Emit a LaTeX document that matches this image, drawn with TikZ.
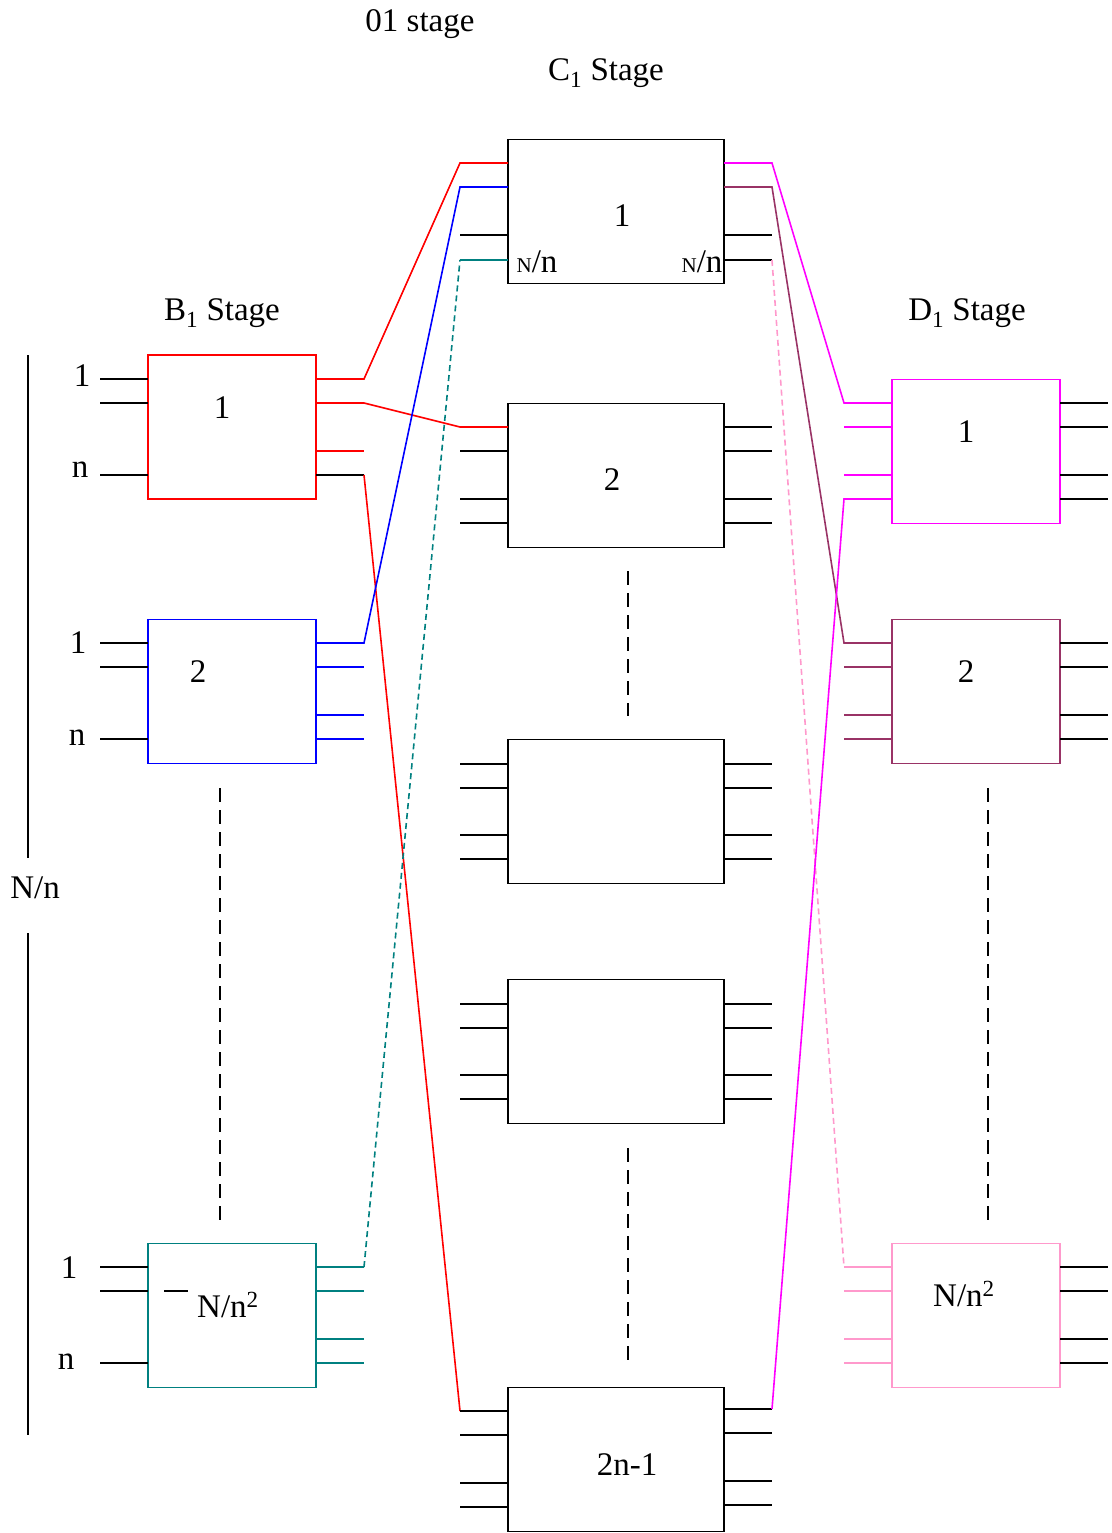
\documentclass[tikz,border=0pt]{standalone}
\usepackage{fontspec}
\setmainfont{Liberation Serif}
\definecolor{cteal}{HTML}{008080}
\definecolor{cpurple}{HTML}{993366}
\definecolor{cpink}{HTML}{FF99CC}
\definecolor{cmag}{HTML}{FF00FF}
\begin{document}
\begin{tikzpicture}[x=1pt,y=-1pt,
  ln/.style={line width=1.6pt},
  bbox/.style={draw, line width=1.8pt, minimum width=168pt, minimum height=144pt, inner sep=0pt},
  cbox/.style={bbox, minimum width=216pt},
  lbl/.style={inner sep=0pt, font=\fontsize{33}{40}\selectfont},
  vdash/.style={ln, dash pattern=on 14pt off 8pt},
  sdash/.style={ln, dash pattern=on 6pt off 4pt}]
\useasboundingbox (0,0) rectangle (1111,1533);
% boxes
\node[bbox, red] (b1) at (232,427) {};
\node[bbox, blue] (b2) at (232,691.5) {};
\node[bbox, cteal] (b3) at (232,1315.5) {};
\node[cbox] (c1) at (616,211.5) {};
\node[cbox] (c2) at (616,475.5) {};
\node[cbox] (c3) at (616,811.5) {};
\node[cbox] (c4) at (616,1051.5) {};
\node[cbox] (c5) at (616,1459.5) {};
\node[bbox, cmag] (d1) at (976,451.5) {};
\node[bbox, cpurple] (d2) at (976,691.5) {};
\node[bbox, cpink] (d3) at (976,1315.5) {};
% titles
\node[lbl] (t01) at (420,24) {01 stage};
\node[lbl] (tc) at (606,73) {C\textsubscript{1} Stage};
\node[lbl] (tb) at (222,313) {B\textsubscript{1} Stage};
\node[lbl] (td) at (967,313) {D\textsubscript{1} Stage};
% box labels
\node[lbl] (lb1) at (222,408) {1};
\node[lbl] (lb2) at (198,672) {2};
\node[lbl] (lb3) at (228,1305) {N/n\textsuperscript{2}};
\node[lbl] (lc1) at (622,216) {1};
\node[lbl] (lc2) at (612,480) {2};
\node[lbl] (lc5) at (627,1465) {2n-1};
\node[lbl] (ld1) at (966,432) {1};
\node[lbl] (ld2) at (966,672) {2};
\node[lbl] (ld3) at (964,1294) {N/n\textsuperscript{2}};
\node[lbl] (nnl) at (537,262) {{\fontsize{21}{24}\selectfont N}/n};
\node[lbl] (nnr) at (702,262) {{\fontsize{21}{24}\selectfont N}/n};
% input labels
\node[lbl] (i11) at (82,376) {1};
\node[lbl] (i1n) at (80,470) {n};
\node[lbl] (i21) at (78,643) {1};
\node[lbl] (i2n) at (77,738) {n};
\node[lbl] (i31) at (69,1268) {1};
\node[lbl] (i3n) at (66,1362) {n};
\node[lbl] (nn) at (35,888) {N/n};
\coordinate (nt) at (28,858);
\coordinate (nb) at (28,933);
\draw[ln] (28,355) -- (nt);
\draw[ln] (nb) -- (28,1435);
% left inputs
\foreach \y in {379,403,475,643,667,739,1267,1291,1363}
  \draw[ln] (100,\y) -- (148,\y);
\draw[ln] (164,1291) -- (188,1291);
% B1 outputs
\draw[ln, red] (316,379) -- (364,379) -- (460,163) -- (508,163);
\draw[ln, red] (316,403) -- (364,403) -- (460,427) -- (508,427);
\draw[ln, red] (316,451) -- (364,451);
\draw[ln] (316,475) -- (364,475);
\draw[ln, red] (364,475) -- (460,1411);
% B2 outputs
\draw[ln, blue] (316,643) -- (364,643) -- (460,187) -- (508,187);
\foreach \y in {667,715,739} \draw[ln, blue] (316,\y) -- (364,\y);
% B3 outputs
\draw[ln, cteal] (316,1267) -- (364,1267);
\draw[sdash, cteal] (364,1267) -- (460,260);
\draw[ln, cteal] (460,260) -- (508,260);
\foreach \y in {1291,1339,1363} \draw[ln, cteal] (316,\y) -- (364,\y);
% C inputs (black)
\foreach \y in {235,451,499,523,764,788,835,859,1004,1028,1075,1099,1411,1435,1483,1507}
  \draw[ln] (460,\y) -- (508,\y);
% C outputs (black)
\foreach \y in {235,260,427,451,499,523,764,788,835,859,1004,1028,1075,1099,1409,1433,1481,1505}
  \draw[ln] (724,\y) -- (772,\y);
% C1 coloured outputs
\draw[ln, cmag] (724,163) -- (772,163) -- (844,403) -- (892,403);
\draw[ln, cpurple] (724,187) -- (772,187) -- (844,643) -- (892,643);
\draw[sdash, cpink] (772,260) -- (844,1267);
\draw[ln, cpink] (844,1267) -- (892,1267);
\draw[ln, cmag] (772,1409) -- (844,499) -- (892,499);
% D inputs
\foreach \y in {427,475} \draw[ln, cmag] (844,\y) -- (892,\y);
\foreach \y in {667,715,739} \draw[ln, cpurple] (844,\y) -- (892,\y);
\foreach \y in {1291,1339,1363} \draw[ln, cpink] (844,\y) -- (892,\y);
% D outputs
\foreach \y in {403,427,475,499,643,667,715,739,1267,1291,1339,1363}
  \draw[ln] (1060,\y) -- (1108,\y);
% ellipsis dashes
\draw[vdash] (628,571) -- (628,716);
\draw[vdash] (628,1148) -- (628,1360);
\draw[vdash] (220,788) -- (220,1220);
\draw[vdash] (988,788) -- (988,1220);
\end{tikzpicture}
\end{document}
